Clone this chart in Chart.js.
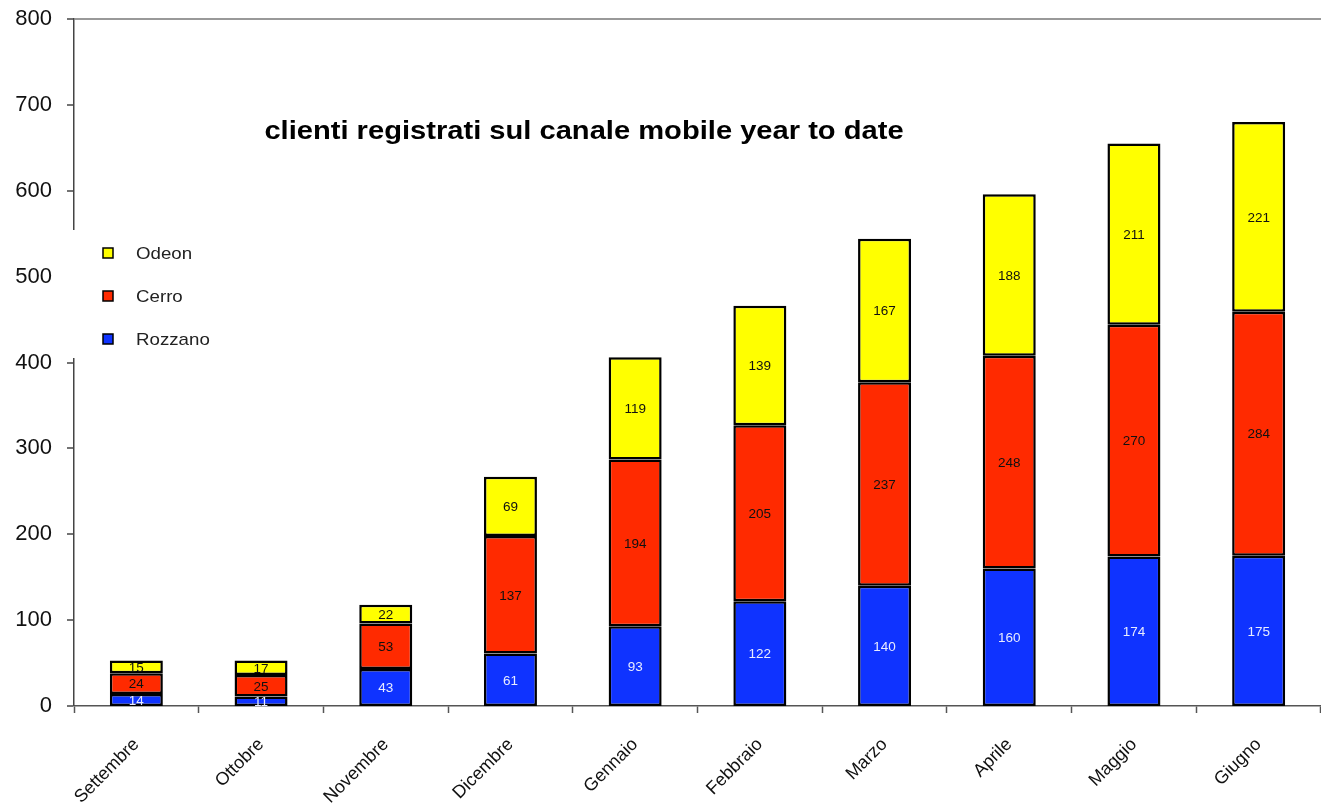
<!DOCTYPE html>
<html>
<head>
<meta charset="utf-8">
<script src="https://cdn.jsdelivr.net/npm/chart.js@4.4.1/dist/chart.umd.min.js"></script>
<style>
  html, body { margin: 0; padding: 0; background: #fff; }
  #wrap { width: 1321px; height: 808px; }
</style>
</head>
<body>
<div id="wrap"><canvas id="c" width="1321" height="808"></canvas></div>
<script>
const titleText = 'clienti registrati sul canale mobile year to date';
const categories = ['Settembre', 'Ottobre', 'Novembre', 'Dicembre', 'Gennaio', 'Febbraio', 'Marzo', 'Aprile', 'Maggio', 'Giugno'];
const rozzano = [14, 11, 43, 61, 93, 122, 140, 160, 174, 175];
const cerro   = [24, 25, 53, 137, 194, 205, 237, 248, 270, 284];
const odeon   = [15, 17, 22, 69, 119, 139, 167, 188, 211, 221];
const yTicks  = [0, 100, 200, 300, 400, 500, 600, 700, 800];

const FONT = '"Liberation Sans", Arial, sans-serif';

const valueLabels = {
  id: 'valueLabels',
  afterDatasetsDraw(chart) {
    const ctx = chart.ctx;
    ctx.save();
    ctx.font = '13.5px ' + FONT;
    ctx.textAlign = 'center';
    ctx.textBaseline = 'middle';
    chart.data.datasets.forEach((ds, i) => {
      const meta = chart.getDatasetMeta(i);
      meta.data.forEach((el, j) => {
        const cy = (el.y + el.base) / 2;
        ctx.fillStyle = ds.labelColor;
        ctx.fillText(String(ds.data[j]), el.x, cy + 1);
      });
    });
    ctx.restore();
  }
};

const titleAndLegend = {
  id: 'titleAndLegend',
  afterDraw(chart) {
    const ctx = chart.ctx;
    const a = chart.chartArea;
    ctx.save();
    // title
    ctx.font = 'bold 26px ' + FONT;
    ctx.fillStyle = '#000';
    ctx.textAlign = 'center';
    ctx.textBaseline = 'middle';
    ctx.save();
    ctx.translate(a.left + 510, a.top + 113);
    ctx.scale(1.12, 1);
    ctx.fillText(titleText, 0, 0);
    ctx.restore();
    // legend box (covers axis)
    ctx.fillStyle = '#fff';
    ctx.fillRect(a.left - 8, 230, 160, 128);
    const items = chart.data.datasets.slice().reverse();
    ctx.font = '17px ' + FONT;
    ctx.textAlign = 'left';
    items.forEach((ds, k) => {
      const cy = 253 + k * 43;
      ctx.fillStyle = ds.backgroundColor;
      ctx.fillRect(a.left + 29, cy - 5, 10, 10);
      ctx.strokeStyle = '#000';
      ctx.lineWidth = 1.5;
      ctx.strokeRect(a.left + 29, cy - 5, 10, 10);
      ctx.fillStyle = '#222';
      ctx.save();
      ctx.translate(a.left + 62, cy + 1);
      ctx.scale(1.1, 1);
      ctx.fillText(ds.label, 0, 0);
      ctx.restore();
    });
    ctx.restore();
  }
};

new Chart(document.getElementById('c'), {
  type: 'bar',
  data: {
    labels: categories,
    datasets: [
      { label: 'Rozzano', data: rozzano, backgroundColor: '#0F33FF', labelColor: '#E8ECFF' },
      { label: 'Cerro', data: cerro, backgroundColor: '#FF2A00', labelColor: '#111' },
      { label: 'Odeon', data: odeon, backgroundColor: '#FFFF00', labelColor: '#111' }
    ].map(d => Object.assign(d, {
      borderColor: '#000', borderWidth: 2.5, borderSkipped: false,
      barPercentage: 0.425, categoryPercentage: 1
    }))
  },
  options: {
    responsive: false,
    animation: false,
    layout: { padding: { top: 19, left: 0, right: 0, bottom: 0 } },
    plugins: { legend: { display: false }, title: { display: false }, tooltip: { enabled: false } },
    scales: {
      x: {
        stacked: true,
        afterFit(s) { s.height = 102; s.paddingTop = 0; s.paddingBottom = 0; },
        grid: { offset: true, drawOnChartArea: false, drawTicks: true, tickLength: 7, tickColor: '#555', tickWidth: 1.5 },
        border: { display: true, color: '#555', width: 1.5 },
        ticks: { minRotation: 45, maxRotation: 45, color: '#111', padding: 21, font: { family: FONT, size: 18 } }
      },
      y: {
        stacked: true,
        min: 0, max: 800,
        afterFit(s) { s.width = 74; s.paddingTop = 0; s.paddingBottom = 0; },
        afterBuildTicks(s) { s.ticks = yTicks.map(v => ({ value: v })); },
        grid: {
          drawTicks: true, tickLength: 7, tickColor: '#444', tickWidth: 1.5,
          color: c => (c.tick && c.tick.value === 800) ? '#999' : 'rgba(0,0,0,0)',
          lineWidth: c => (c.tick && c.tick.value === 800) ? 2 : 0
        },
        border: { display: true, color: '#444', width: 1.5 },
        ticks: { color: '#111', padding: 15, font: { family: FONT, size: 22 } }
      }
    }
  },
  plugins: [valueLabels, titleAndLegend]
});
</script>
</body>
</html>
